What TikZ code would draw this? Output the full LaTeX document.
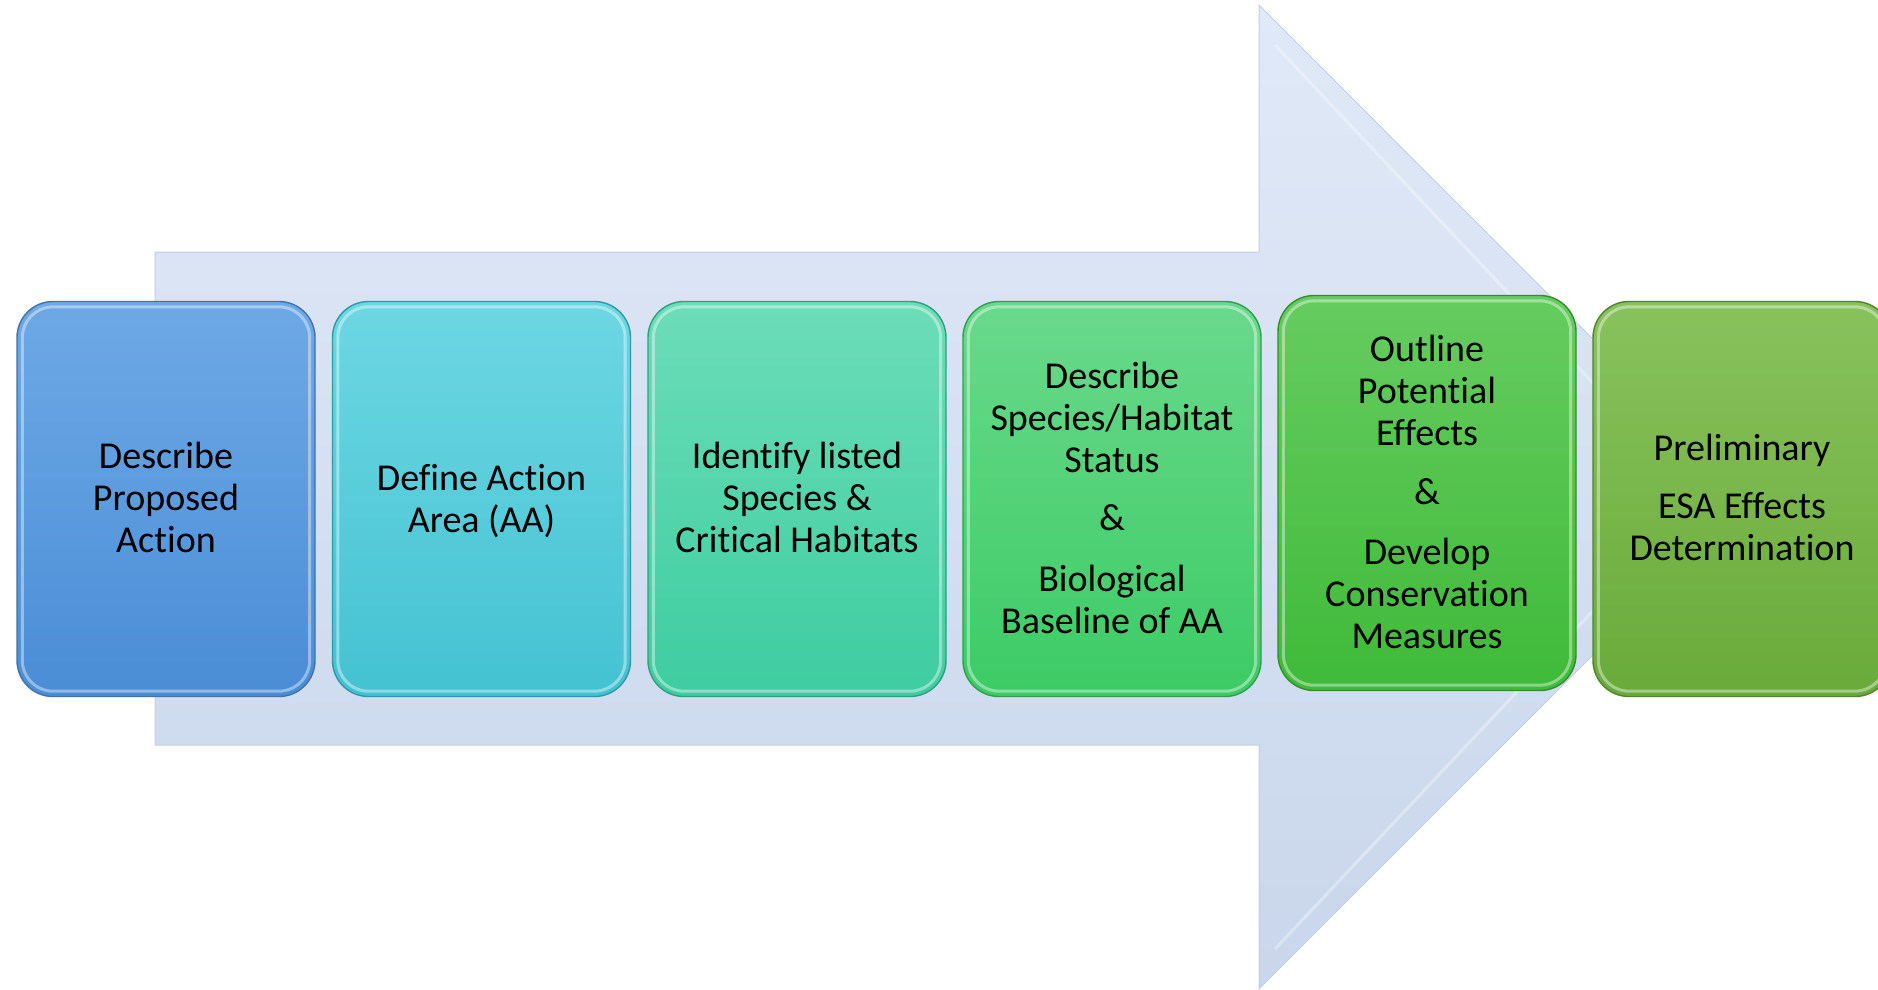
\documentclass[tikz,border=0pt]{standalone}
\usepackage{fontspec}
\setmainfont{Carlito}[Ligatures=NoCommon]
\usetikzlibrary{shadings}
\definecolor{arrTop}{HTML}{E0E9F7}
\definecolor{arrBot}{HTML}{C9D6EB}
\definecolor{arrEdge}{HTML}{C2D0E6}
\definecolor{aT}{HTML}{6EA9E6}\definecolor{aB}{HTML}{4A8DD6}\definecolor{aE}{HTML}{3E73AE}
\definecolor{bT}{HTML}{6DD7E3}\definecolor{bB}{HTML}{44C2D2}\definecolor{bE}{HTML}{2E98A8}
\definecolor{cT}{HTML}{6CDDB8}\definecolor{cB}{HTML}{3ECDA0}\definecolor{cE}{HTML}{2EA07C}
\definecolor{dT}{HTML}{6AD98C}\definecolor{dB}{HTML}{3CCB65}\definecolor{dE}{HTML}{2E9E4C}
\definecolor{eT}{HTML}{66CC60}\definecolor{eB}{HTML}{3FBA39}\definecolor{eE}{HTML}{2F8F2B}
\definecolor{fT}{HTML}{88C25C}\definecolor{fB}{HTML}{6AAA3A}\definecolor{fE}{HTML}{4F842A}
\tikzset{
  stepbox/.style={rounded corners=36pt, minimum width=298pt, minimum height=395pt,
    inner sep=0pt, line width=1.4pt},
  steptext/.style={align=center, inner sep=0pt,
    font=\fontsize{38}{42}\selectfont, text=black},
  bevel/.style={rounded corners=31pt, white, opacity=0.4, line width=3pt},
}
\begin{document}
\begin{tikzpicture}[x=1pt,y=-1pt]
\useasboundingbox (0,0) rectangle (1878,989);
\clip (0,0) rectangle (1878,989);
\fill[white] (0,0) rectangle (1878,989);
% big background arrow
\path[top color=arrTop, bottom color=arrBot, draw=arrEdge, line width=1pt]
  (155,252) -- (1259,252) -- (1259,5) -- (1751,497) -- (1259,989) -- (1259,745) -- (155,745) -- cycle;
\draw[white, opacity=0.35, line width=3pt, line join=miter]
  (1275,45) -- (1700,497) -- (1275,949);
% step boxes
\node[stepbox, top color=aT, bottom color=aB, draw=aE] (b1) at (166,499) {};
\node[stepbox, top color=bT, bottom color=bB, draw=bE] (b2) at (481.5,499) {};
\node[stepbox, top color=cT, bottom color=cB, draw=cE] (b3) at (797,499) {};
\node[stepbox, top color=dT, bottom color=dB, draw=dE] (b4) at (1112,499) {};
\node[stepbox, top color=eT, bottom color=eB, draw=eE] (b5) at (1427,493) {};
\node[stepbox, top color=fT, bottom color=fB, draw=fE] (b6) at (1742,499) {};
% bevel highlights
\foreach \b in {b1,b2,b3,b4,b5,b6}{
  \draw[bevel] ([shift={(6,6)}]\b.north west) rectangle ([shift={(-6,-6)}]\b.south east);
}
% texts
\node[steptext] (t1) at ([yshift=2pt]b1.center) {Describe\\Proposed\\Action};
\node[steptext] (t2) at ([yshift=-2pt]b2.center) {Define Action\\Area (AA)};
\node[steptext] (t3) at ([yshift=2pt]b3.center) {Identify listed\\Species \&\\Critical Habitats};
\node[steptext] (t4) at ([yshift=1pt]b4.center)
  {Describe\\Species/Habitat\\Status\\[16pt]\&\\[19pt]Biological\\Baseline of AA};
\node[steptext] (t5) at ([yshift=1pt]b5.center)
  {Outline\\Potential\\Effects\\[17pt]\&\\[18pt]Develop\\Conservation\\Measures};
\node[steptext] (t6) at ([yshift=1.5pt]b6.center)
  {Preliminary\\[16pt]ESA Effects\\Determination};
\end{tikzpicture}
\end{document}
